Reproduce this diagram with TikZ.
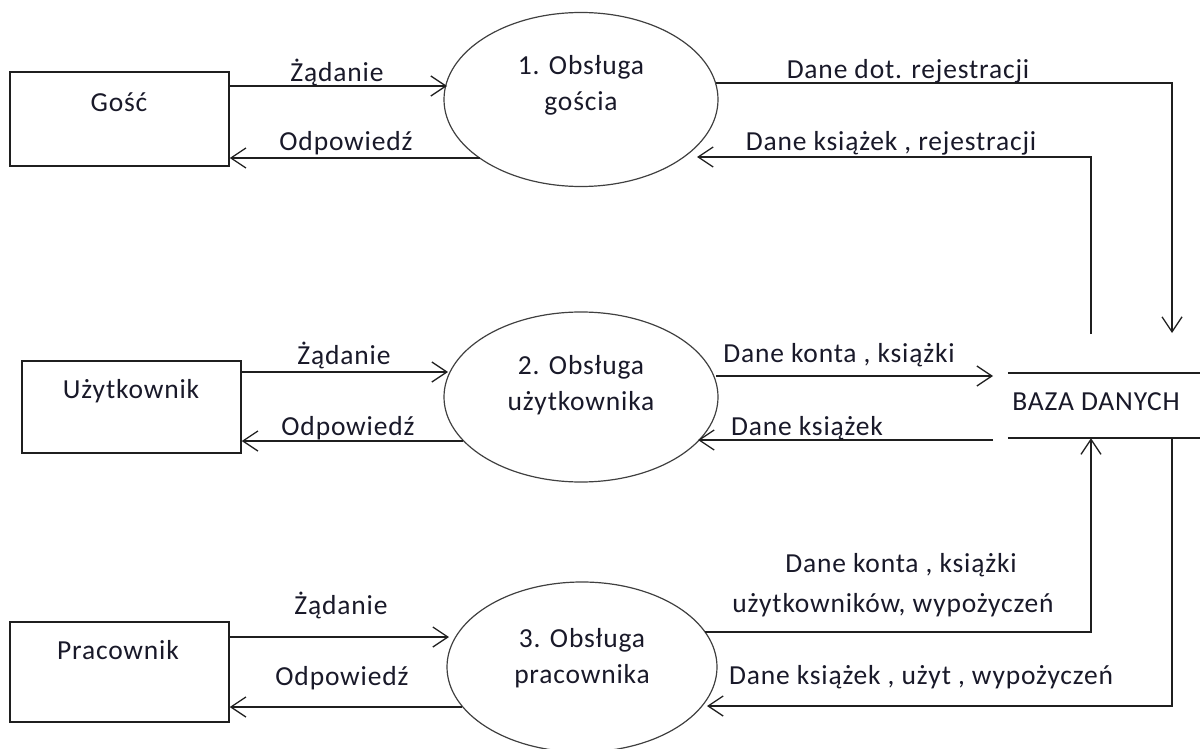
\documentclass[tikz,border=0pt]{standalone}
\usepackage{fontspec}
\setmainfont{Carlito}[LetterSpace=3.0]
\usetikzlibrary{shapes.geometric,arrows.meta}
\definecolor{linec}{rgb}{0.12,0.12,0.12}
\definecolor{ellc}{rgb}{0.25,0.25,0.25}
\definecolor{txtc}{rgb}{0.10,0.10,0.16}
\begin{document}
\begin{tikzpicture}[x=1pt,y=-1pt,
  ent/.style={draw=linec,line width=1.5pt,minimum width=219pt,inner sep=0pt},
  proc/.style={ellipse,draw=ellc,line width=1.2pt,inner sep=0pt},
  lbl/.style={text=txtc,font=\fontsize{27.5}{36}\selectfont,inner sep=0pt,align=center},
  plain/.style={draw=linec,line width=1.5pt},
  flow/.style={plain,-{Straight Barb[length=15pt,width=20pt,line width=1.3pt]}}]
\useasboundingbox (0,0) rectangle (1200,749);

% external entities
\node[ent,minimum height=94pt]  (gosc) at (119.5,119) {};
\node[ent,minimum height=92pt]  (uzyt) at (131.5,407) {};
\node[ent,minimum height=100pt] (prac) at (119.5,672) {};
\node[lbl] (gosc-t) at (119,102) {Gość};
\node[lbl] (uzyt-t) at (131,391) {Użytkownik};
\node[lbl] (prac-t) at (118,650) {Pracownik};

% processes
\node[proc,minimum width=274pt,minimum height=174pt] (p1) at (581,99.5) {};
\node[proc,minimum width=274pt,minimum height=170pt] (p2) at (581,397) {};
\node[proc,minimum width=270pt,minimum height=170pt] (p3) at (582,667) {};
\node[lbl] (p1-t) at (581,85)  {1. Obsługa\\gościa};
\node[lbl] (p2-t) at (581,385) {2. Obsługa\\użytkownika};
\node[lbl] (p3-t) at (582,658) {3. Obsługa\\pracownika};

% data store
\node[lbl,minimum width=192pt,minimum height=65pt] (db) at (1104,405.5) {};
\node[lbl] (db-t) at (1096,402) {BAZA DANYCH};
\draw[plain] (db.north west) -- (db.north east);
\draw[plain] (db.south west) -- (db.south east);

% connector end points on the process borders
\coordinate (p1in)  at (447,86);
\coordinate (p1out) at (480,158);
\coordinate (p1r)   at (716,83);
\coordinate (p1l)   at (697,157);
\coordinate (p2in)  at (448,372);
\coordinate (p2out) at (463,441);
\coordinate (p2r)   at (716,376);
\coordinate (p2l)   at (698,440);
\coordinate (p3in)  at (449,637);
\coordinate (p3out) at (462,707);
\coordinate (p3r)   at (705,632);
\coordinate (p3l)   at (707,706);
\coordinate (dbin)  at (993,376);
\coordinate (dbout) at (993,440);
\coordinate (xa) at (1091,0);
\coordinate (xb) at (1172,0);

% guest flows
\draw[flow] (gosc.east |- p1in) -- (p1in);
\draw[flow] (p1out) -- (gosc.east |- p1out);
\draw[flow] (p1r) -- (xb |- p1r) -- (xb |- 0,333);
\draw[flow] (xa |- 0,334) -- (xa |- p1l) -- (p1l);

% user flows
\draw[flow] (uzyt.east |- p2in) -- (p2in);
\draw[flow] (p2out) -- (uzyt.east |- p2out);
\draw[flow] (p2r) -- (dbin);
\draw[flow] (dbout) -- (p2l);

% employee flows
\draw[flow] (prac.east |- p3in) -- (p3in);
\draw[flow] (p3out) -- (prac.east |- p3out);
\draw[flow] (p3r) -- (xa |- p3r) -- (xa |- db.south);
\draw[flow] (xb |- db.south) -- (xb |- p3l) -- (p3l);

% flow labels
\node[lbl] (l1) at (337,72)  {Żądanie};
\node[lbl] (l2) at (346,143) {Odpowiedź};
\node[lbl] (l3) at (908,71)  {Dane dot. rejestracji};
\node[lbl] (l4) at (891,143) {Dane książek , rejestracji};
\node[lbl] (l5) at (344,355) {Żądanie};
\node[lbl] (l6) at (348,428) {Odpowiedź};
\node[lbl] (l7) at (839,355) {Dane konta , książki};
\node[lbl] (l8) at (807,428) {Dane książek};
\node[lbl] (l9) at (341,605) {Żądanie};
\node[lbl] (l10) at (342,678) {Odpowiedź};
\node[lbl] (l11) at (901,565) {Dane konta , książki};
\node[lbl] (l12) at (893,605) {użytkowników, wypożyczeń};
\node[lbl] (l13) at (921,677) {Dane książek , użyt , wypożyczeń};
\end{tikzpicture}
\end{document}
